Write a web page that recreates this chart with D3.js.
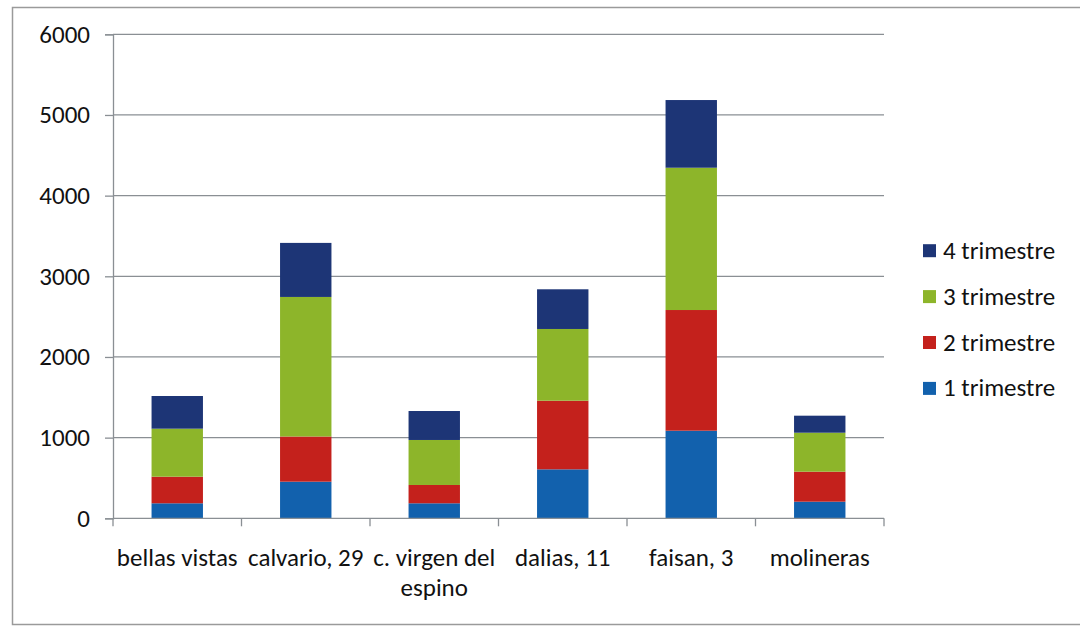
<!DOCTYPE html>
<html>
<head>
<meta charset="utf-8">
<script src="https://cdn.jsdelivr.net/npm/d3@7/dist/d3.min.js"></script>
<style>
  html, body { margin: 0; padding: 0; background: #fff; }
  svg { display: block; }
  text { font-family: Carlito, Lato, "Open Sans", sans-serif; fill: #111; }
</style>
</head>
<body>
<svg id="chart" width="1080" height="627"></svg>
<script>
const categories = ["bellas vistas", "calvario, 29", "c. virgen del espino", "dalias, 11", "faisan, 3", "molineras"];
const seriesNames = ["1 trimestre", "2 trimestre", "3 trimestre", "4 trimestre"];
const q1 = [186, 454, 186, 607, 1086, 206];
const q2 = [330, 560, 227, 851, 1496, 372];
const q3 = [595, 1730, 558, 889, 1764, 483];
const q4 = [405, 670, 359, 492, 839, 211];
const seriesColors = ["#1261ad", "#c4211c", "#8db52a", "#1d3576"];
const yTicks = [0, 1000, 2000, 3000, 4000, 5000, 6000];

const svg = d3.select("#chart");
const FONT = "Carlito, Lato, 'Open Sans', sans-serif";
const FS = "25px";

// outer frame
svg.append("rect").attr("x", 12.5).attr("y", 7.5).attr("width", 1080).attr("height", 617)
  .attr("fill", "none").attr("stroke", "#9a9a9a").attr("stroke-width", 1.5);

const pLeft = 113, pRight = 884, pTop = 34.3, pBottom = 518.3;
const x = d3.scaleBand().domain(categories).range([pLeft, pRight]).paddingInner(0.6).paddingOuter(0.3);
const xb = d3.scaleBand().domain(categories).range([pLeft, pRight]);
const y = d3.scaleLinear().domain([0, 6000]).range([pBottom, pTop]);

// gridlines
svg.append("g").selectAll("line").data(yTicks.filter(d => d > 0)).join("line")
  .attr("x1", pLeft).attr("x2", pRight)
  .attr("y1", d => y(d)).attr("y2", d => y(d))
  .attr("stroke", "#8a8f94").attr("stroke-width", 1.3);

// y axis
const yAxis = svg.append("g").attr("transform", `translate(${pLeft},0)`)
  .call(d3.axisLeft(y).tickValues(yTicks).tickSize(8).tickPadding(15).tickFormat(d3.format("d")));
yAxis.select(".domain").attr("stroke", "#8a8f94").attr("stroke-width", 1.3);
yAxis.selectAll(".tick line").attr("stroke", "#8a8f94").attr("stroke-width", 1.3);
yAxis.selectAll(".tick text").style("font-size", FS).style("font-family", FONT).attr("fill", "#111");

// stacked data
const rows = categories.map((c, i) => ({cat: c, "1 trimestre": q1[i], "2 trimestre": q2[i], "3 trimestre": q3[i], "4 trimestre": q4[i]}));
const stack = d3.stack().keys(seriesNames)(rows);
const color = d3.scaleOrdinal().domain(seriesNames).range(seriesColors);

svg.append("g").selectAll("g").data(stack).join("g")
  .attr("fill", d => color(d.key))
  .selectAll("rect").data(d => d).join("rect")
  .attr("x", d => x(d.data.cat))
  .attr("width", x.bandwidth())
  .attr("y", d => y(d[1]))
  .attr("height", d => y(d[0]) - y(d[1]));

// x axis line
const xAxis = svg.append("g").attr("transform", `translate(0,${pBottom})`);
xAxis.append("line").attr("x1", pLeft).attr("x2", pRight).attr("y1", 0).attr("y2", 0)
  .attr("stroke", "#8a8f94").attr("stroke-width", 1.3);
const boundaries = categories.map(c => xb(c)).concat([pRight]);
xAxis.selectAll("line.tk").data(boundaries).join("line").attr("class", "tk")
  .attr("x1", d => d).attr("x2", d => d).attr("y1", 0).attr("y2", 8)
  .attr("stroke", "#8a8f94").attr("stroke-width", 1.3);

// x labels (wrap)
const labelLines = {"c. virgen del espino": ["c. virgen del", "espino"]};
categories.forEach(c => {
  const lines = labelLines[c] || [c];
  const t = svg.append("text").attr("text-anchor", "middle")
    .attr("x", xb(c) + xb.bandwidth() / 2).attr("y", 566).style("font-size", FS);
  lines.forEach((l, i) => t.append("tspan").attr("x", xb(c) + xb.bandwidth() / 2).attr("dy", i === 0 ? 0 : 30).text(l));
});

// legend
const legendOrder = seriesNames.slice().reverse();
const lg = svg.append("g").selectAll("g").data(legendOrder).join("g")
  .attr("transform", (d, i) => `translate(923,${250.7 + i * 45.9})`);
lg.append("rect").attr("x", 0).attr("y", -6.5).attr("width", 13).attr("height", 13).attr("fill", d => color(d));
lg.append("text").attr("x", 20).attr("y", 8).style("font-size", FS).text(d => d);
</script>
</body>
</html>
